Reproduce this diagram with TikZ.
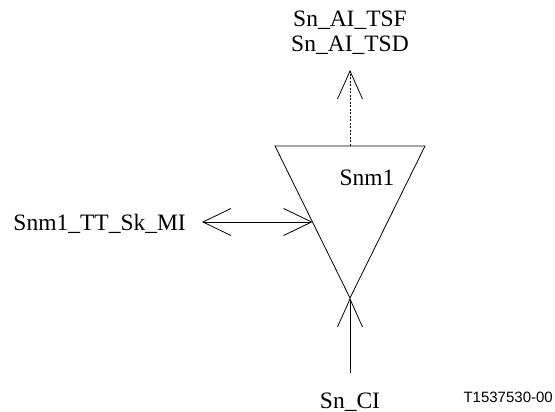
\documentclass[tikz,border=0pt]{standalone}
\usepackage{fontspec}
\setmainfont{Liberation Serif}
\newfontfamily\figsans{Liberation Sans}
\usetikzlibrary{arrows.meta,positioning,calc}

\begin{document}
\begin{tikzpicture}[
  x=1pt, y=-1pt,
  lbl/.style={font=\fontsize{23.5}{25}\selectfont, inner sep=0pt},
  edge/.style={line width=0.8pt},
  arrow/.style={-{Straight Barb[length=28pt,width=25pt,line width=0.8pt]}, line width=0.8pt},
  dblarrow/.style={{Straight Barb[length=28pt,width=27pt,line width=0.8pt]}-{Straight Barb[length=28pt,width=27pt,line width=0.8pt]}, line width=0.8pt}
]
\useasboundingbox (0,0) rectangle (555,412);

% Triangle (Snm1 sink)
\coordinate (tl) at (275,146);
\coordinate (tr) at (425,146);
\coordinate (apex) at (350,298);
\coordinate (topmid) at ($(tl)!0.5!(tr)$);
\coordinate (leftmid) at ($(tl)!0.5!(apex)$);
\draw[edge] (tl) -- (tr) -- (apex) -- cycle;
\node[lbl] (snm) at (367,178) {Snm1};

% Top output
\node[lbl, anchor=base] (tsf) at (350,27) {Sn\_AI\_TSF};
\node[lbl, anchor=base] (tsd) at (350,52) {Sn\_AI\_TSD};
\coordinate (toptip) at (350,70);
\draw[arrow, dash pattern=on 2pt off 1.5pt] (topmid) -- (toptip);

% Left management interface
\node[lbl, anchor=base east] (mi) at (186,230) {Snm1\_TT\_Sk\_MI};
\coordinate (mistart) at (202,222);
\draw[dblarrow] (mistart) -- (leftmid);

% Bottom input
\node[lbl, anchor=base] (ci) at (350,408) {Sn\_CI};
\coordinate (cistart) at (350,373);
\draw[arrow] (cistart) -- (apex);

% Figure number
\node[font=\figsans\fontsize{15}{17}\selectfont, inner sep=0pt, anchor=base east] (fig) at (553,402) {T1537530-00};

\end{tikzpicture}
\end{document}
